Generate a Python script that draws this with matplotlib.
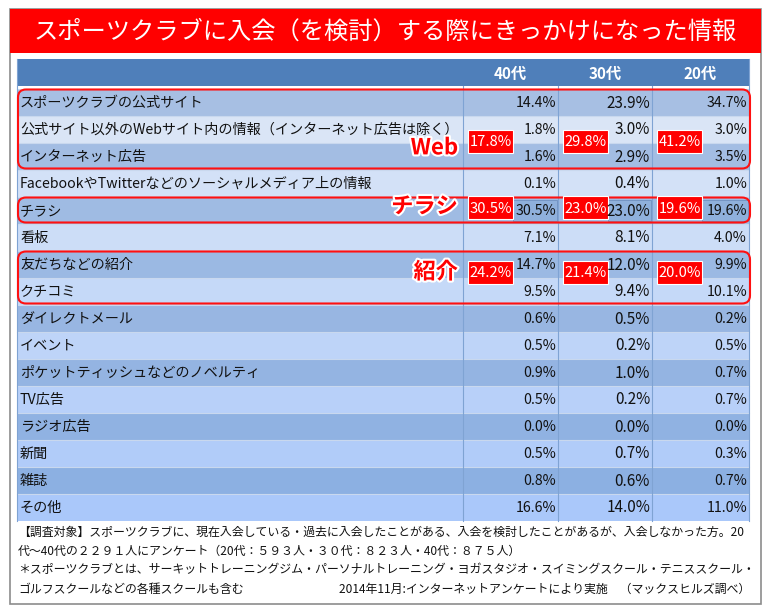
import numpy as np
import matplotlib.pyplot as plt
import matplotlib.patheffects as pe
from matplotlib.patches import Rectangle, FancyBboxPatch
from matplotlib.colors import to_rgb

plt.rcParams['font.family'] = ['Noto Sans CJK JP', 'DejaVu Sans']

title = 'スポーツクラブに入会（を検討）する際にきっかけになった情報'
columns = ['40代', '30代', '20代']
labels = [
    'スポーツクラブの公式サイト',
    '公式サイト以外のWebサイト内の情報（インターネット広告は除く）',
    'インターネット広告',
    'FacebookやTwitterなどのソーシャルメディア上の情報',
    'チラシ',
    '看板',
    '友だちなどの紹介',
    'クチコミ',
    'ダイレクトメール',
    'イベント',
    'ポケットティッシュなどのノベルティ',
    'TV広告',
    'ラジオ広告',
    '新聞',
    '雑誌',
    'その他',
]
v40 = [14.4, 1.8, 1.6, 0.1, 30.5, 7.1, 14.7, 9.5, 0.6, 0.5, 0.9, 0.5, 0.0, 0.5, 0.8, 16.6]
v30 = [23.9, 3.0, 2.9, 0.4, 23.0, 8.1, 12.0, 9.4, 0.5, 0.2, 1.0, 0.2, 0.0, 0.7, 0.6, 14.0]
v20 = [34.7, 3.0, 3.5, 1.0, 19.6, 4.0, 9.9, 10.1, 0.2, 0.5, 0.7, 0.7, 0.0, 0.3, 0.7, 11.0]

group_names = ['Web', 'チラシ', '紹介']
group_first = [0, 4, 6]
group_last = [2, 4, 7]
group40 = [17.8, 30.5, 24.2]
group30 = [29.8, 23.0, 21.4]
group20 = [41.2, 19.6, 20.0]

notes = [
    '【調査対象】スポーツクラブに、現在入会している・過去に入会したことがある、入会を検討したことがあるが、入会しなかった方。20',
    '代〜40代の２２９１人にアンケート（20代：５９３人・３０代：８２３人・40代：８７５人）',
    '＊スポーツクラブとは、サーキットトレーニングジム・パーソナルトレーニング・ヨガスタジオ・スイミングスクール・テニススクール・',
    'ゴルフスクールなどの各種スクールも含む',
]
source = '2014年11月:インターネットアンケートにより実施　（マックスヒルズ調べ）'

W, H = 771, 610
fig = plt.figure(figsize=(W / 100, H / 100), dpi=100)
ax = fig.add_axes([0, 0, 1, 1])
ax.set_xlim(0, W)
ax.set_ylim(H, 0)
ax.axis('off')

# layout (pixels)
tab_l, tab_r = 17, 749
col_edges = [tab_l, 463, 558, 652, tab_r]
head_top, head_bot = 59, 86
row_top, rh = 88.5, 27.0
nrows = len(labels)

def row_y(i):
    return row_top + i * rh

# outer frame + title band
ax.add_patch(Rectangle((10, 9), 751, 595, fc='white', ec='#8c8c8c', lw=1.2))
ax.add_patch(Rectangle((10, 9), 751, 44, fc='#ff0000', ec='none'))
ax.text(W / 2, 32, title, color='white', fontsize=17.5, ha='center', va='center')

# header
ax.add_patch(Rectangle((tab_l, head_top), tab_r - tab_l, head_bot - head_top,
                       fc='#4f7fba', ec='none'))
for j, c in enumerate(columns):
    ax.text((col_edges[j + 1] + col_edges[j + 2]) / 2, (head_top + head_bot) / 2 + 1, c,
            color='white', fontsize=11, fontweight='bold', ha='center', va='center')

# rows, shaded darker / lighter with a slight drift down the table
dark_a, dark_b = np.array(to_rgb('#a7bfe3')), np.array(to_rgb('#8aafe2'))
light_a, light_b = np.array(to_rgb('#dde7f6')), np.array(to_rgb('#aac8fa'))
for i, lab in enumerate(labels):
    t = i / (nrows - 1)
    if i % 2 == 0:
        fc = dark_a + (dark_b - dark_a) * t
    else:
        fc = light_a + (light_b - light_a) * t
    y0 = row_y(i)
    ax.add_patch(Rectangle((tab_l, y0), tab_r - tab_l, rh, fc=fc, ec='none'))
    ax.plot([tab_l, tab_r], [y0, y0], color='#c9d8ee', lw=0.8)
    ax.text(tab_l + 3, y0 + rh / 2 + 1, lab, fontsize=10.2, ha='left', va='center',
            color='#111111')
    for j, vals in enumerate([v40, v30, v20]):
        ax.text(col_edges[j + 2] - 2, y0 + rh / 2 + 1, f'{vals[i]:.1f}%',
                fontsize=11 if j == 1 else 10.2, ha='right', va='center',
                color='#111111', zorder=8)

for x in col_edges[1:4]:
    ax.plot([x, x], [head_bot, row_y(nrows)], color='#7fa3d3', lw=0.8)
ax.plot([tab_l, tab_l], [head_top, row_y(nrows)], color='#7fa3d3', lw=0.8)
ax.plot([tab_r, tab_r], [head_top, row_y(nrows)], color='#7fa3d3', lw=0.8)

# highlighted groups
box_anchor = [1.95, 4.42, 6.8]
name_anchor = [2.2, 4.37, 6.8]
for g, name in enumerate(group_names):
    y0 = row_y(group_first[g]) + 1
    y1 = row_y(group_last[g] + 1) - 1
    ax.add_patch(FancyBboxPatch((tab_l + 1, y0), tab_r - tab_l, y1 - y0,
                                boxstyle='round,pad=0,rounding_size=8',
                                fc='none', ec='#ff1010', lw=1.5, zorder=5))
    ax.text(458, row_top + name_anchor[g] * rh, name, color='#ff0000',
            fontsize=16, fontweight='bold', ha='right', va='center', zorder=6,
            path_effects=[pe.withStroke(linewidth=3, foreground='white')])
    yc = row_top + box_anchor[g] * rh
    single = group_first[g] == group_last[g]
    for j, vals in enumerate([group40, group30, group20]):
        bx = col_edges[j + 1] + 5
        if single:
            ax.add_patch(Rectangle((bx + 45, row_y(group_first[g]) + 3),
                                   col_edges[j + 2] - bx - 46, rh - 6,
                                   fc='#8fb0dc', ec='#6f8fbf', lw=0.6, zorder=4))
        ax.add_patch(Rectangle((bx, yc - 11.5), 45, 23, fc='#ff0000',
                               ec='white', lw=0.8, zorder=6))
        ax.text(bx + 22.5, yc + 1, f'{vals[g]:.1f}%', color='white', fontsize=10.6,
                ha='center', va='center', zorder=7)

# notes
note_y = [532, 551, 570, 589]
for k, line in enumerate(notes):
    ax.text(18, note_y[k], line, fontsize=8.6, ha='left', va='center', color='#111111')
ax.text(750, note_y[3], source, fontsize=8.6, ha='right', va='center', color='#111111')

fig.savefig('out.png', dpi=100)
